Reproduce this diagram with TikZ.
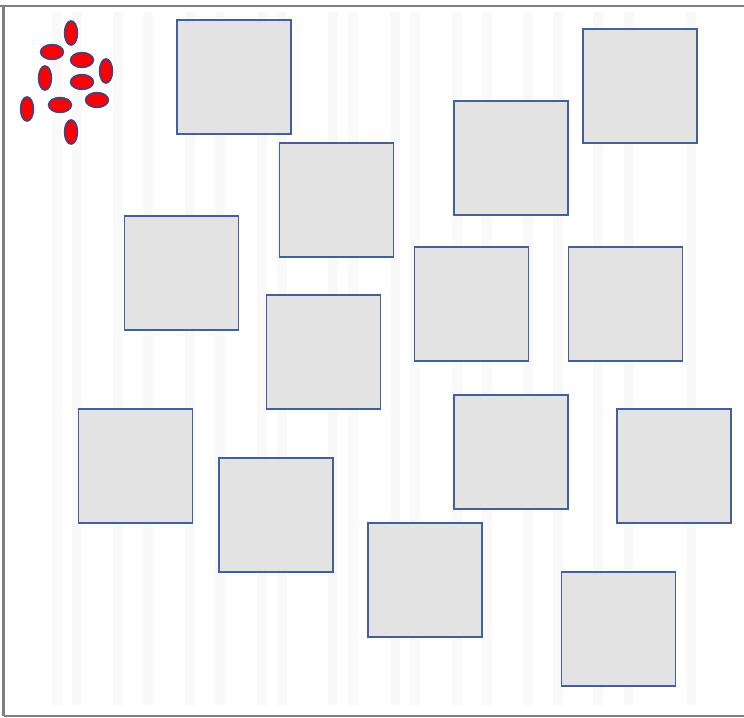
\documentclass[tikz,border=0pt]{standalone}
\usepackage{tikz}
\usetikzlibrary{shapes.geometric, positioning}

\definecolor{tileFill}{RGB}{227,227,227}
\definecolor{tileEdge}{RGB}{68,96,156}
\definecolor{seedEdge}{RGB}{78,62,120}
\definecolor{frameGray}{RGB}{128,128,128}
\definecolor{stripeGray}{RGB}{249,249,249}

\begin{document}
\begin{tikzpicture}[
    x=0.75pt, y=-0.75pt,
    tile/.style={rectangle, draw=tileEdge, fill=tileFill, line width=1.2pt, minimum size=85.5pt, inner sep=0pt},
    seedh/.style={ellipse, draw=seedEdge, fill=red, line width=1.3pt, minimum width=17pt, minimum height=11pt, inner sep=0pt},
    seedv/.style={ellipse, draw=seedEdge, fill=red, line width=1.3pt, minimum width=9.5pt, minimum height=18pt, inner sep=0pt},
    stripe/.style={fill=stripeGray, draw=none},
    frame/.style={draw=frameGray, line width=1.5pt}
]
\useasboundingbox (0,0) rectangle (744,718);

% Background stripes
\foreach \sx in {52,72,113,143,185,215,257,277,328,348,390,410,452,482,523,553,593,624,686}
    \fill[stripe] (\sx,12) rectangle (\sx+10,705);

% Frame
\draw[frame] (0,5.5) -- (744,5.5);
\draw[frame] (3.5,5.5) -- (3.5,715.5);
\draw[frame] (3.5,715.5) -- (744,715.5);

% Tiles
\node[tile] (t1)  at (234,77)  {};
\node[tile] (t2)  at (640,86)  {};
\node[tile] (t3)  at (511,158) {};
\node[tile] (t4)  at (336.5,200) {};
\node[tile] (t5)  at (181.5,273) {};
\node[tile] (t6)  at (471.5,304) {};
\node[tile] (t7)  at (625.5,304) {};
\node[tile] (t8)  at (323.5,352) {};
\node[tile] (t9)  at (135.5,466) {};
\node[tile] (t10) at (511,452) {};
\node[tile] (t11) at (674,466) {};
\node[tile] (t12) at (276,515) {};
\node[tile] (t13) at (425,580) {};
\node[tile] (t14) at (618.5,629) {};

% Seeds
\node[seedv] (s1)  at (71,33)  {};
\node[seedh] (s2)  at (52,52)  {};
\node[seedh] (s3)  at (82,60)  {};
\node[seedv] (s4)  at (106,71) {};
\node[seedv] (s5)  at (45,78)  {};
\node[seedh] (s6)  at (82,82)  {};
\node[seedh] (s7)  at (97,100) {};
\node[seedh] (s8)  at (60,105) {};
\node[seedv] (s9)  at (27,109) {};
\node[seedv] (s10) at (71,132) {};

\end{tikzpicture}
\end{document}
